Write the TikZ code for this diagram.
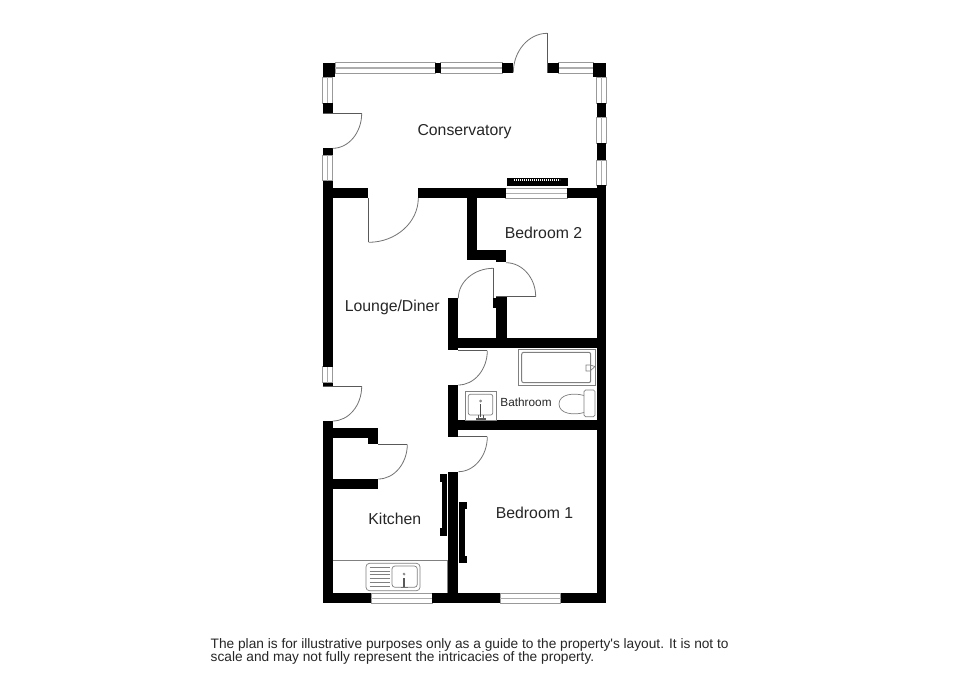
\documentclass[tikz,border=0pt]{standalone}
\usepackage{fontspec}
\setmainfont{Liberation Sans}
\newcommand{\wl}[4]{\fill[black] (#1,#2) rectangle (#3,#4);}
\newcommand{\hwin}[4]{\draw[fixture,draw=black!40] (#1,#2) rectangle (#3,#4);
  \draw[winmid] (#1,{#2+(#4-#2)*0.5}) -- (#3,{#2+(#4-#2)*0.5});}
\newcommand{\vwin}[4]{\draw[fixture,draw=black!40] (#1,#2) rectangle (#3,#4);
  \draw[winmid] ({#1+(#3-#1)*0.5},#2) -- ({#1+(#3-#1)*0.5},#4);}
\newcommand{\swing}[4]{\draw[doorline] (#1,#2) .. controls (#1,{#2+0.55*(#4-#2)}) and ({#3+0.55*(#1-#3)},#4) .. (#3,#4);}
\tikzset{
  fixture/.style={draw=black!50,line width=0.7pt},
  winmid/.style={draw=black!32,line width=1.5pt},
  doorline/.style={draw=black!55,line width=0.8pt},
  leaf/.style={draw=black!65,line width=1pt},
  roomlabel/.style={font=\fontsize{15.8}{18}\selectfont,text=black!85,inner sep=0pt},
  notetext/.style={anchor=base west,inner sep=0pt,text=black!85,font=\fontsize{13.7}{15}\selectfont},
}
\begin{document}
\begin{tikzpicture}[x=1pt,y=-1pt]
\useasboundingbox (0,0) rectangle (966,683);
\fill[white] (0,0) rectangle (966,683);
% windows
\hwin{335}{62.7}{435.3}{73.3}
\hwin{440.7}{62.7}{502}{73.3}
\hwin{558.7}{62.7}{593.3}{73.3}
\hwin{505.7}{188.3}{567.3}{198.3}
\hwin{371}{593.3}{432.3}{603.3}
\hwin{500}{593.3}{560.7}{603.3}
\vwin{322.7}{77.3}{332.7}{103.3}
\vwin{322.7}{155.3}{332.7}{180.7}
\vwin{322.7}{366.7}{332.7}{382.7}
\vwin{596.7}{77.3}{606}{103.3}
\vwin{596.7}{117.3}{606}{143.3}
\vwin{596.7}{160}{606}{185}
% conservatory piers
\wl{322.7}{62.7}{335.3}{77.3}
\wl{435.3}{62.7}{440.7}{73.3}
\wl{502}{62.7}{513.3}{72.7}
\wl{548}{62.7}{558.7}{72.7}
\wl{593.3}{62.7}{606}{77.3}
\wl{322.7}{103.3}{332.7}{114}
\wl{322.7}{148.3}{332.7}{155.3}
\wl{596.7}{103.3}{606}{117.3}
\wl{596.7}{143.3}{606}{160}
% outer walls
\wl{322.7}{180.7}{332.7}{366.7}
\wl{322.7}{382.7}{332.7}{386}
\wl{322.7}{421}{332.7}{603.3}
\wl{596.7}{185}{606}{603.3}
\wl{322.7}{593.3}{371}{603.3}
\wl{432.3}{593.3}{500}{603.3}
\wl{560.7}{593.3}{606}{603.3}
\wl{332}{188.3}{368.3}{198.3}
\wl{418.3}{188.3}{505.7}{198.3}
\wl{567.3}{188.3}{597}{198.3}
% inner walls
\wl{466.7}{198}{476.7}{260}
\wl{466.7}{250}{506}{260}
\wl{496}{250}{506}{261.7}
\wl{448.3}{298.3}{458.3}{350}
\wl{496}{296.7}{506.7}{340}
\wl{493.3}{298}{496}{308}
\wl{448.3}{338.3}{597}{348.3}
\wl{448.3}{385}{458.3}{436.7}
\wl{458}{420}{597}{430}
\wl{448.3}{471.7}{458.3}{594}
\wl{332}{428.3}{378.3}{438.3}
\wl{368.3}{428.3}{378.3}{444}
\wl{332}{479}{378.3}{489}
% radiator above window
\wl{506.7}{178.3}{568.3}{186}
\draw[white,line width=2pt,dash pattern=on 1.4pt off 0.6pt] (514,180) -- (560,180);
% wardrobes
\wl{440}{474}{447.3}{535.7}
\fill[white] (440,481.7) rectangle (442,528);
\wl{459}{501.7}{467.3}{563.3}
\fill[white] (464.7,509) rectangle (467.3,556);
% door leaves and swings
\draw[leaf] (547.3,72.7) -- (547.3,33.3);
\swing{513.3}{72.7}{547.3}{33.3}
\draw[leaf] (322.7,113.3) -- (361.7,113.3);
\swing{361.7}{113.3}{332.7}{148.3}
\draw[leaf] (368.7,198) -- (368.7,242.3);
\swing{418.3}{198}{368.7}{242.3}
\draw[leaf] (493.3,298) -- (493.3,268.3);
\swing{458.3}{298.3}{493.3}{268.3}
\draw[leaf] (496,296.7) -- (535.7,296.7);
\swing{535.7}{296.7}{506}{262.7}
\draw[leaf] (458,350.7) -- (487.3,350.7);
\swing{487.3}{350.7}{458.3}{385}
\draw[leaf] (458,436.7) -- (487.3,436.7);
\swing{487.3}{436.7}{458.3}{471.7}
\draw[leaf] (322.7,386.3) -- (361.7,386.3);
\swing{361.7}{386.3}{332.7}{421}
\draw[leaf] (378,444.3) -- (407.3,444.3);
\swing{407.3}{444.3}{378.3}{479}
% bath
\draw[fixture] (518.3,349) rectangle (595,385.7);
\draw[fixture,line width=1pt,rounded corners=2pt] (521.7,352.3) rectangle (590.7,382.7);
\draw[fixture] (595,366.5) -- (590,371) -- (586,371) -- (586,365) -- (590,365) -- cycle;
% toilet
\draw[fixture,rounded corners=1.5pt] (584,390) rectangle (595,416.7);
\draw[fixture] (584,395.5) .. controls (574,392.5) and (559,394) .. (559,404) .. controls (559,414) and (574,415.5) .. (584,412.5);
% basin
\draw[fixture] (465,391.7) rectangle (496.7,420);
\draw[fixture,rounded corners=2pt] (468.3,394.3) rectangle (492.7,415);
\draw[fixture] (480.7,401) circle (1pt);
\draw[black!70,line width=1.4pt] (480.7,404) -- (480.7,417);
\draw[black!65,line width=2pt] (476,418.6) -- (485.5,418.6);
\draw[black!65,line width=1pt] (478,415) -- (478,418) (483.5,415) -- (483.5,418);
% worktop and sink
\draw[fixture] (332.7,560) -- (447.3,560) -- (447.3,593.3);
\draw[fixture,rounded corners=3.5pt] (366,563.3) rectangle (420,590.7);
\draw[fixture,rounded corners=3pt] (392,566) rectangle (417.3,587.3);
\foreach \yy in {567,570.9,574.8,578.7,582.6,586.5}{\draw[fixture] (369.5,\yy) -- (389.5,\yy);}
\draw[fixture] (404,574) circle (1pt);
\draw[black!65,line width=1.2pt] (404,578) -- (404,587);
\draw[black!55,line width=1pt] (400.5,587.3) -- (407.5,587.3);
% labels
\node[roomlabel] (conservatory) at (464.5,131.5) {Conservatory};
\node[roomlabel] (bed2) at (543.5,233) {Bedroom 2};
\node[roomlabel] (lounge) at (392.3,307.3) {Lounge/Diner};
\node[roomlabel,font=\fontsize{11.8}{14}\selectfont] (bath) at (526,402.3) {Bathroom};
\node[roomlabel] (kitchen) at (394.8,518.5) {Kitchen};
\node[roomlabel] (bed1) at (534.5,512.4) {Bedroom 1};
\node[notetext] (note1) at (210.5,648) {The plan is for illustrative purposes only as a guide to the property\textquotesingle s layout. It is not to};
\node[notetext] (note2) at (210.5,661.7) {scale and may not fully represent the intricacies of the property.};
\end{tikzpicture}
\end{document}
